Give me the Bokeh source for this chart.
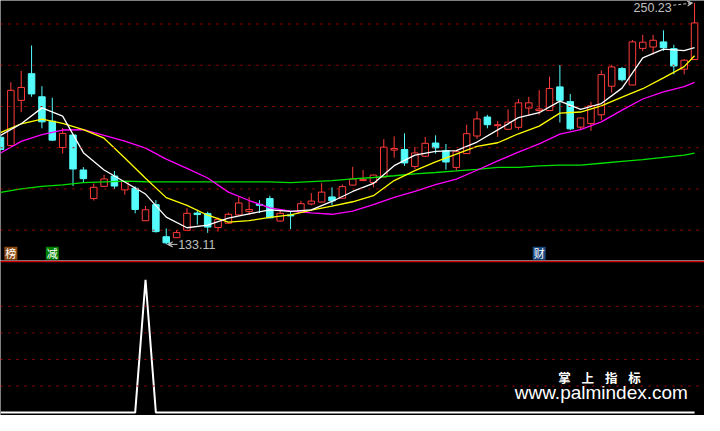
from bokeh.plotting import figure
from bokeh.layouts import column
from bokeh.models import Range1d, Span, Label, Arrow, VeeHead
from bokeh.core.properties import value
from bokeh.embed import file_html
from bokeh.resources import INLINE

# ---------------- data ----------------
opens = [185.09, 181.02, 202.97, 215.91, 204.70, 192.88, 180.09, 186.16, 169.21, 155.34,
         161.27, 166.27, 159.54, 160.33, 144.60, 152.40, 136.84, 136.38, 139.93, 148.33,
         148.05, 141.33, 143.38, 147.40, 149.13, 152.54, 155.34, 144.46, 147.40, 148.66,
         152.72, 153.66, 156.13, 155.52, 161.88, 164.07, 163.14, 165.80, 178.87, 179.16,
         170.94, 175.89, 182.28, 178.55, 170.47, 177.15, 185.69, 194.89, 190.69, 188.96,
         189.90, 199.24, 198.02, 198.02, 209.51, 202.36, 189.99, 191.76, 195.97, 209.84,
         218.38, 210.44, 228.19, 228.84, 231.32, 228.05, 218.10, 222.77]
highs = [186.02, 211.70, 217.31, 229.59, 209.84, 204.23, 189.62, 186.40, 170.61, 162.67,
         166.87, 168.74, 163.80, 161.27, 151.70, 154.59, 140.86, 140.12, 150.67, 149.92,
         148.99, 146.18, 148.52, 156.13, 156.13, 154.59, 156.74, 149.73, 149.13, 154.26,
         158.00, 162.81, 160.80, 162.20, 170.75, 169.21, 166.90, 184.15, 185.55, 186.95,
         180.42, 185.23, 186.02, 181.82, 178.20, 191.16, 197.69, 195.97, 193.02, 198.63,
         203.63, 204.70, 207.97, 214.51, 220.11, 206.10, 194.60, 202.22, 217.45, 220.25,
         219.18, 232.25, 234.73, 234.73, 236.92, 229.92, 222.91, 250.23]
lows = [178.55, 180.80, 197.23, 204.70, 189.43, 183.22, 177.15, 161.41, 163.14, 154.40,
        161.10, 160.01, 157.21, 148.19, 144.40, 138.85, 133.11, 136.20, 139.60, 142.73,
        138.71, 139.32, 143.20, 147.20, 147.40, 148.33, 145.80, 144.30, 140.49, 148.50,
        152.07, 153.50, 152.07, 155.40, 161.70, 163.74, 160.80, 165.60, 175.14, 171.22,
        169.67, 175.42, 177.15, 169.35, 168.88, 177.00, 184.29, 189.43, 185.23, 188.80,
        188.82, 195.83, 195.97, 197.90, 192.23, 188.50, 189.06, 188.21, 193.35, 206.71,
        212.17, 210.30, 226.79, 225.25, 226.98, 215.58, 215.58, 222.60]
closes = [179.16, 207.83, 209.23, 206.10, 192.56, 183.68, 186.95, 169.67, 165.00, 160.80,
          164.86, 161.41, 163.60, 150.06, 149.92, 139.32, 133.86, 138.85, 148.19, 147.59,
          141.51, 145.25, 147.73, 153.19, 150.06, 152.07, 146.00, 148.19, 146.93, 152.86,
          154.12, 158.47, 154.26, 161.13, 164.86, 164.54, 166.73, 180.28, 179.62, 172.62,
          177.47, 182.14, 179.95, 173.08, 178.08, 186.81, 193.96, 191.16, 191.16, 192.42,
          201.76, 201.76, 198.77, 208.76, 202.97, 189.15, 194.43, 200.36, 215.44, 219.18,
          212.97, 231.32, 231.18, 232.11, 228.52, 219.64, 222.45, 240.52]

# moving-average lines, read at every second bar and the last bar
ma_idx = list(range(0, 67, 2)) + [67]
ma_white = [186.02, 191.62, 199.33, 195.36, 177.61, 169.21, 163.37, 157.53, 146.32, 141.19,
            142.45, 145.86, 147.96, 149.83, 149.13, 149.83, 153.94, 158.79, 162.67, 171.31,
            176.45, 178.22, 178.55, 182.75, 188.68, 194.57, 196.99, 202.60, 198.63, 201.43,
            208.90, 223.61, 227.82, 227.12, 228.52]
ma_yellow = [187.28, 191.62, 193.82, 191.86, 188.82, 184.62, 175.05, 165.24, 155.81, 152.02,
             147.26, 143.90, 144.60, 146.23, 147.45, 149.69, 151.70, 153.80, 156.74, 164.07,
             168.93, 173.13, 176.87, 180.70, 182.42, 186.77, 190.50, 196.76, 197.32, 200.26,
             204.56, 208.62, 213.90, 219.32, 224.64]
ma_magenta = [177.47, 183.08, 186.30, 188.59, 188.73, 186.02, 183.22, 179.81, 174.44, 170.00,
              165.33, 158.47, 154.40, 150.85, 149.27, 148.43, 147.73, 149.22, 152.40, 155.90,
              158.89, 162.11, 164.82, 169.07, 173.60, 177.89, 181.86, 186.58, 188.73, 192.56,
              198.26, 203.63, 207.13, 209.60, 211.70]
ma_green = [158.33, 160.05, 161.27, 161.97, 163.04, 163.46, 163.84, 163.51, 163.46, 163.46,
            163.46, 163.46, 163.46, 163.46, 163.04, 163.60, 164.07, 164.86, 165.57, 166.41,
            167.34, 167.99, 168.74, 169.54, 170.47, 170.52, 171.17, 171.54, 171.54, 172.48,
            173.41, 174.25, 175.37, 176.45, 177.33]

price_grid = [140, 160, 180, 200, 220, 240]

signal_idx = [1, 5, 52]
signal_text = ["榜", "减", "财"]
signal_colors = ["#8c4b14", "#007f00", "#1a4a80"]

indicator = [0] * 68
indicator[14] = 100
ind_grid = [20, 40, 60, 80]

# ---------------- styles ----------------
RED = "#ff3c3c"
CYAN = "#54fcfc"
GRID = "#c00000"
W = 704
H1, H2 = 260, 155

idx = list(range(len(opens)))
up = [c >= o for o, c in zip(opens, closes)]
colors = [RED if u else CYAN for u in up]
fills = ["black" if u else CYAN for u in up]
tops = [max(o, c) for o, c in zip(opens, closes)]
bots = [min(o, c) for o, c in zip(opens, closes)]

xr = Range1d(0, 67.96)


def base_fig(h, yr):
    f = figure(width=W, height=h, x_range=xr, y_range=yr, output_backend="svg",
               toolbar_location=None, x_axis_type=None, y_axis_type=None,
               background_fill_color="black", border_fill_color="black",
               outline_line_color=None, min_border=0)
    return f


# ---------------- upper panel ----------------
p1 = base_fig(H1, Range1d(125.31, 251.40))
for g in price_grid:
    p1.add_layout(Span(location=g, dimension="width", line_color=GRID,
                       line_dash="2 6", line_width=1))

p1.segment(x0=idx, y0=lows, x1=idx, y1=highs, line_color=colors, line_width=1)
p1.vbar(x=idx, width=0.63, top=tops, bottom=bots, fill_color=fills,
        line_color=colors, line_width=1)

p1.line(ma_idx, ma_green, line_color="#00e000", line_width=1.3)
p1.line(ma_idx, ma_magenta, line_color="#ff00ff", line_width=1.3)
p1.line(ma_idx, ma_yellow, line_color="#ffff00", line_width=1.3)
p1.line(ma_idx, ma_white, line_color="white", line_width=1.3)

# high / low annotations
hi = max(highs)
hi_i = highs.index(hi)
lo = min(lows)
lo_i = lows.index(lo)
LBL = "#c0c0c0"
p1.add_layout(Label(x=hi_i - 2.2, y=hi - 2.1, text=f"{hi:.2f}", text_align="right",
                    text_baseline="middle", text_color=LBL, text_font="Liberation Sans",
                    text_font_size="12.5px"))
p1.add_layout(Arrow(x_start=hi_i - 2.05, y_start=hi - 1.1, x_end=hi_i - 0.2, y_end=hi - 0.05,
                    line_color=LBL, line_width=1, line_dash="3 2",
                    end=VeeHead(size=5, line_color=LBL, fill_color=LBL, line_width=1)))
p1.add_layout(Label(x=lo_i + 1.15, y=lo - 0.25, text=f"{lo:.2f}", text_align="left",
                    text_baseline="middle", text_color=LBL, text_font="Liberation Sans",
                    text_font_size="12.5px"))
p1.add_layout(Arrow(x_start=lo_i + 1.08, y_start=lo, x_end=lo_i + 0.12, y_end=lo,
                    line_color=LBL, line_width=1,
                    end=VeeHead(size=5, line_color=LBL, fill_color=LBL, line_width=1)))

# signal markers
sig_y = [128.8] * len(signal_idx)
p1.rect(x=signal_idx, y=sig_y, width=13, height=13, width_units="screen",
        height_units="screen", fill_color=signal_colors, line_color=None)
p1.text(x=signal_idx, y=sig_y, text=signal_text, text_color="white",
        text_font=value("Noto Sans CJK SC"), text_font_size="11px",
        text_align="center", text_baseline="middle")

# ---------------- lower panel ----------------
p2 = base_fig(H2, Range1d(-2.17, 114.5))
for g in ind_grid:
    p2.add_layout(Span(location=g, dimension="width", line_color=GRID,
                       line_dash="2 6", line_width=1))
p2.add_layout(Span(location=113.8, dimension="width", line_color="#d00000", line_width=1.5))
p2.line(idx, indicator, line_color="white", line_width=2)

for ch, cx in zip(["掌", "上", "指", "标"], [54.45, 56.7, 58.95, 61.2]):
    p2.add_layout(Label(x=cx, y=26.8, text=ch, text_align="center", text_baseline="middle",
                        text_color="white", text_font="Noto Sans CJK SC",
                        text_font_size="12.5px", text_font_style="bold"))
p2.add_layout(Label(x=58.0, y=15.0, text="www.palmindex.com", text_align="center",
                    text_baseline="middle", text_color="white", text_font="Liberation Sans",
                    text_font_size="19px"))

layout = column(p1, p2, spacing=0)
open("out.html", "w").write(file_html(layout, INLINE))
